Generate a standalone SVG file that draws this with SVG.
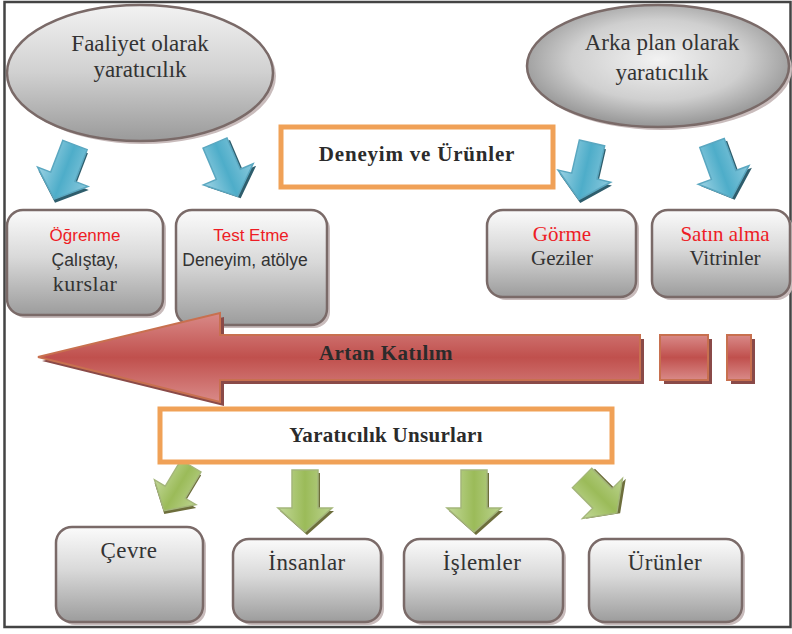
<svg xmlns="http://www.w3.org/2000/svg" width="792" height="634" viewBox="0 0 792 634">
<defs>
<linearGradient id="gBox" x1="0" y1="0" x2="0" y2="1">
<stop offset="0" stop-color="#fbfbfb"/><stop offset="0.45" stop-color="#d9d9d9"/><stop offset="1" stop-color="#9c9c9c"/>
</linearGradient>
<linearGradient id="gEll1" x1="0" y1="0" x2="0" y2="1">
<stop offset="0" stop-color="#f2f2f2"/><stop offset="0.5" stop-color="#d0d0d0"/><stop offset="1" stop-color="#9a9a9a"/>
</linearGradient>
<radialGradient id="gEll2" cx="0.5" cy="0.45" r="0.55">
<stop offset="0" stop-color="#f2f2f2"/><stop offset="0.6" stop-color="#cfcfcf"/><stop offset="1" stop-color="#959595"/>
</radialGradient>
<linearGradient id="gRed" x1="0" y1="0" x2="0" y2="1">
<stop offset="0" stop-color="#d98a88"/><stop offset="0.5" stop-color="#c0504d"/><stop offset="1" stop-color="#d98a88"/>
</linearGradient>
<linearGradient id="gBlue" x1="0" y1="0" x2="1" y2="0">
<stop offset="0" stop-color="#9ed3e4"/><stop offset="0.5" stop-color="#4eadc9"/><stop offset="1" stop-color="#8bc9dd"/>
</linearGradient>
<linearGradient id="gGreen" x1="0" y1="0" x2="1" y2="0">
<stop offset="0" stop-color="#c3d99a"/><stop offset="0.5" stop-color="#9bbb59"/><stop offset="1" stop-color="#bcd390"/>
</linearGradient>
<polygon id="arrowShape" points="-13,0 13,0 13,34 27,34 0,58 -27,34 -13,34"/>
<polygon id="arrowShapeG" points="-13,0 13,0 13,38 27,38 0,62 -27,38 -13,38"/>
</defs>
<style>
.box{fill:url(#gBox);stroke:#7a6a68;stroke-width:2.5}
.shadow{fill:#c9bcbc}
.ell{stroke:#7a6a68;stroke-width:2.5}
.orange{fill:#ffffff;stroke:#f0a157;stroke-width:5}
.serif{font-family:"Liberation Serif","DejaVu Serif",serif;fill:#333333}
.sans{font-family:"Liberation Sans",Arial,sans-serif;fill:#333333}
.red{fill:#ee1c25}
.bold{font-weight:bold;fill:#2b2b2b}
.blueA{fill:url(#gBlue);stroke:#5aa7c0;stroke-width:1.5}
.blueS{fill:#2e5d6c}
.greenA{fill:url(#gGreen);stroke:#a4b67a;stroke-width:1.5}
.greenS{fill:#6d6e3c}
.redA{fill:url(#gRed);stroke:#c8704f;stroke-width:2}
.redS{fill:#8a4a48}
</style>

<rect x="4.5" y="2" width="786" height="625" fill="#ffffff" stroke="#444444" stroke-width="2.5"/>

<g id="ellipse-faaliyet">
<ellipse cx="143" cy="76" rx="133" ry="68" class="shadow"/>
<ellipse cx="140" cy="73" rx="133" ry="68" class="ell" fill="url(#gEll1)"/>
<text x="140" y="51" class="serif" font-size="23" text-anchor="middle">Faaliyet olarak</text>
<text x="140" y="77" class="serif" font-size="23" text-anchor="middle">yaratıcılık</text>
</g>

<g id="ellipse-arkaplan">
<ellipse cx="661" cy="69" rx="131" ry="61" class="shadow"/>
<ellipse cx="658" cy="66" rx="131" ry="61" class="ell" fill="url(#gEll2)"/>
<text x="662" y="50" class="serif" font-size="23" text-anchor="middle">Arka plan olarak</text>
<text x="662" y="80" class="serif" font-size="23" text-anchor="middle">yaratıcılık</text>
</g>

<g id="deneyim-urunler">
<rect x="281" y="127" width="272" height="60" class="orange"/>
<text x="417" y="161" class="serif bold" font-size="21" letter-spacing="0.8" text-anchor="middle">Deneyim ve Ürünler</text>
</g>

<g id="connectors">
<g transform="translate(75,145) rotate(21)"><use href="#arrowShape" class="blueS" transform="translate(2,3)"/><use href="#arrowShape" class="blueA"/></g>
<g transform="translate(215,143) rotate(-23)"><use href="#arrowShape" class="blueS" transform="translate(2,3)"/><use href="#arrowShape" class="blueA"/></g>
<g transform="translate(592,143) rotate(13)"><use href="#arrowShape" class="blueS" transform="translate(2,3)"/><use href="#arrowShape" class="blueA"/></g>
<g transform="translate(712,143) rotate(-20)"><use href="#arrowShape" class="blueS" transform="translate(2,3)"/><use href="#arrowShape" class="blueA"/></g>

<g transform="translate(191,466) rotate(31) scale(0.9)"><use href="#arrowShape" class="greenS" transform="translate(2,3)"/><use href="#arrowShape" class="greenA"/></g>
<g transform="translate(305,470)"><use href="#arrowShapeG" class="greenS" transform="translate(2,3)"/><use href="#arrowShapeG" class="greenA"/></g>
<g transform="translate(474,470)"><use href="#arrowShapeG" class="greenS" transform="translate(2,3)"/><use href="#arrowShapeG" class="greenA"/></g>
<g transform="translate(582,478) rotate(-45) scale(1.05,0.85)"><use href="#arrowShape" class="greenS" transform="translate(2,3)"/><use href="#arrowShape" class="greenA"/></g>
</g>

<g id="ogrenme">
<rect x="10" y="213" width="156" height="105" rx="16" class="shadow"/>
<rect x="7" y="210" width="156" height="105" rx="16" class="box"/>
<text x="85" y="241" class="sans red" font-size="17" text-anchor="middle">Öğrenme</text>
<text x="85" y="266" class="sans" font-size="17.5" text-anchor="middle">Çalıştay,</text>
<text x="85" y="291" class="serif" font-size="22" letter-spacing="0.5" text-anchor="middle">kurslar</text>
</g>

<g id="test-etme">
<rect x="179" y="213" width="151" height="115" rx="16" class="shadow"/>
<rect x="176" y="210" width="151" height="115" rx="16" class="box"/>
<text x="251" y="241" class="sans red" font-size="17" text-anchor="middle">Test Etme</text>
<text x="245" y="266" class="sans" font-size="17.5" text-anchor="middle">Deneyim, atölye</text>
</g>

<g id="gorme">
<rect x="490" y="213" width="149" height="87" rx="16" class="shadow"/>
<rect x="487" y="210" width="149" height="87" rx="16" class="box"/>
<text x="562" y="241" class="serif red" font-size="21" text-anchor="middle">Görme</text>
<text x="562" y="265" class="serif" font-size="21" text-anchor="middle">Geziler</text>
</g>

<g id="satin-alma">
<rect x="655" y="213" width="138" height="87" rx="16" class="shadow"/>
<rect x="652" y="210" width="138" height="87" rx="16" class="box"/>
<text x="725" y="241" class="serif red" font-size="21" text-anchor="middle">Satın alma</text>
<text x="725" y="265" class="serif" font-size="21" text-anchor="middle">Vitrinler</text>
</g>

<g id="artan-katilim">
<polygon points="42,361 224,317 224,339 644,339 644,384 224,384 224,406" class="redS"/>
<polygon points="38,357 220,313 220,335 640,335 640,380 220,380 220,402" class="redA"/>
<rect x="664" y="339" width="48" height="45" class="redS"/>
<rect x="660" y="335" width="48" height="45" class="redA"/>
<rect x="731" y="339" width="24" height="45" class="redS"/>
<rect x="727" y="335" width="24" height="45" class="redA"/>
<text x="386" y="360" class="serif bold" font-size="21" letter-spacing="0.5" text-anchor="middle">Artan Katılım</text>
</g>

<g id="yaraticilik-unsurlari">
<rect x="160" y="409" width="452" height="53" class="orange"/>
<text x="386" y="442" class="serif bold" font-size="21" letter-spacing="0.3" text-anchor="middle">Yaratıcılık Unsurları</text>
</g>

<g id="cevre">
<rect x="59" y="530" width="147" height="95" rx="16" class="shadow"/>
<rect x="56" y="527" width="147" height="95" rx="16" class="box"/>
<text x="129" y="558" class="serif" font-size="23" letter-spacing="0.4" text-anchor="middle">Çevre</text>
</g>

<g id="insanlar">
<rect x="236" y="542" width="148" height="83" rx="16" class="shadow"/>
<rect x="233" y="539" width="148" height="83" rx="16" class="box"/>
<text x="307" y="570" class="serif" font-size="23" letter-spacing="0.4" text-anchor="middle">İnsanlar</text>
</g>

<g id="islemler">
<rect x="407" y="542" width="159" height="83" rx="16" class="shadow"/>
<rect x="404" y="539" width="159" height="83" rx="16" class="box"/>
<text x="482" y="570" class="serif" font-size="23" letter-spacing="0.4" text-anchor="middle">İşlemler</text>
</g>

<g id="urunler">
<rect x="592" y="542" width="153" height="83" rx="16" class="shadow"/>
<rect x="589" y="539" width="153" height="83" rx="16" class="box"/>
<text x="665" y="570" class="serif" font-size="23" letter-spacing="0.4" text-anchor="middle">Ürünler</text>
</g>
</svg>
